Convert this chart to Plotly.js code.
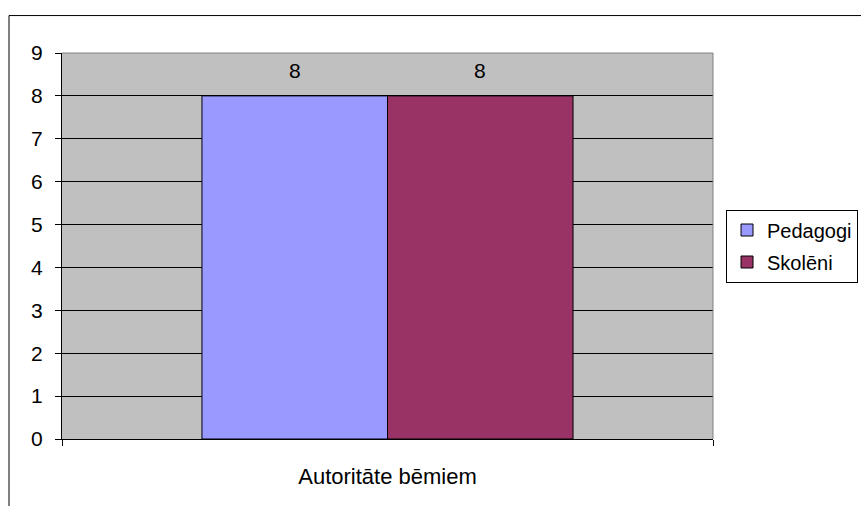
<!DOCTYPE html>
<html>
<head>
<meta charset="utf-8">
<script src="https://cdn.plot.ly/plotly-3.0.1.min.js"></script>
<style>html,body{margin:0;padding:0;background:#fff;}#chart{width:861px;height:506px;}</style>
</head>
<body>
<div id="chart"></div>
<script>
const categories = ["Autoritāte bēmiem"];
const seriesNames = ["Pedagogi", "Skolēni"];
const pedagogi = [8];
const skoleni = [8];
const colors = ["#9999FF", "#993366"];
const yTicks = [0,1,2,3,4,5,6,7,8,9];

const FAM = "Liberation Sans, Arial, sans-serif";
const mkFont = (s) => ({family: FAM, size: s, color: "#000"});
const BARGAP = 0.43;
const values = [pedagogi, skoleni];
const traces = values.map((v, i) => ({
  type: "bar",
  name: seriesNames[i],
  legendgroup: "g" + i,
  x: categories,
  y: v,
  marker: {color: colors[i], line: {color: "#000", width: 1}}
}));

// value labels placed at each grouped bar's centre (derived from bargap and series count)
const annotations = [];
values.forEach((v, i) => {
  const n = values.length;
  const w = (1 - BARGAP) / n;
  v.forEach((val, j) => {
    annotations.push({
      xref: "x", yref: "y", x: j + (i - (n - 1) / 2) * w, y: val,
      text: String(val), showarrow: false, yanchor: "bottom", yshift: 12,
      font: mkFont(21)
    });
  });
});

const layout = {
  width: 861, height: 506,
  margin: {l: 62, r: 148, t: 53, b: 67, autoexpand: false},
  paper_bgcolor: "#fff",
  plot_bgcolor: "#C0C0C0",
  font: mkFont(21),
  barmode: "group",
  bargap: BARGAP,
  bargroupgap: 0,
  showlegend: true,
  legend: {x: 1.02, xanchor: "left", y: 0.5, yanchor: "middle", traceorder: "grouped",
           tracegroupgap: 3, itemwidth: 30, bordercolor: "#000", borderwidth: 1, bgcolor: "#fff", font: mkFont(20)},
  xaxis: {type: "category", tickson: "boundaries", ticks: "outside", ticklen: 6,
          tickcolor: "#000", showline: true, linecolor: "#000", mirror: false,
          ticklabelstandoff: 18, showgrid: false, fixedrange: true, tickfont: mkFont(22)},
  yaxis: {range: [0, 9], tickvals: yTicks, ticks: "outside", ticklen: 6, tickcolor: "#000",
          showline: true, linecolor: "#000", showgrid: true, gridcolor: "#000", gridwidth: 1,
          zeroline: false, ticklabelstandoff: 8, fixedrange: true, tickfont: mkFont(21)},
  annotations: annotations,
  shapes: [
    {type: "line", xref: "paper", yref: "paper", x0: 0, x1: 1, y0: 1, y1: 1, line: {color: "#808080", width: 1}},
    {type: "line", xref: "paper", yref: "paper", x0: 1, x1: 1, y0: 0, y1: 1, line: {color: "#808080", width: 1}},
    {type: "rect", xref: "paper", yref: "paper", x0: -0.0814, x1: 1.4, y0: -0.3, y1: 1.097,
     line: {color: "#000", width: 1}, fillcolor: "rgba(0,0,0,0)", layer: "below"}
  ]
};
Plotly.newPlot("chart", traces, layout, {displayModeBar: false, staticPlot: true});
</script>
</body>
</html>
